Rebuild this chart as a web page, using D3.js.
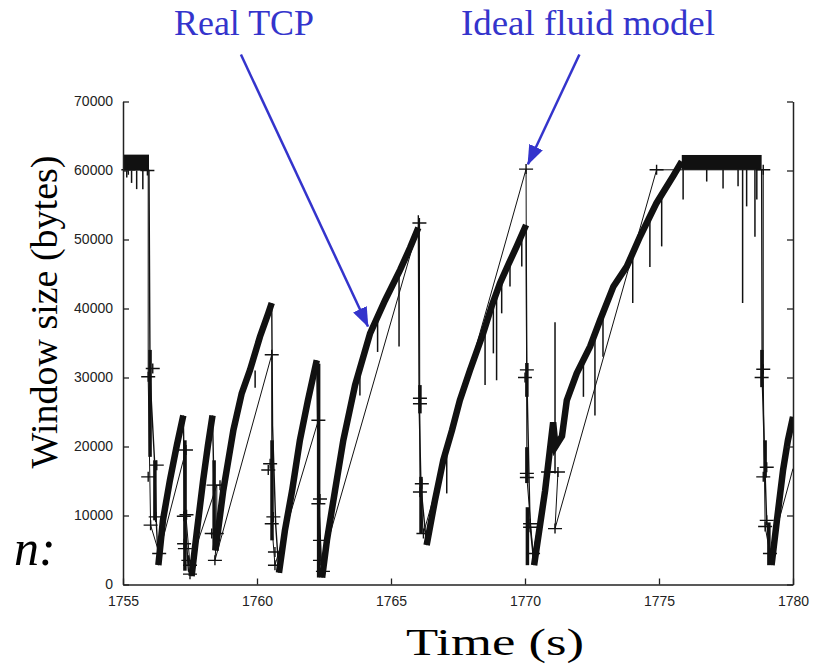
<!DOCTYPE html>
<html>
<head>
<meta charset="utf-8">
<script src="https://cdn.jsdelivr.net/npm/d3@7"></script>
<style>
  html, body { margin: 0; padding: 0; background: #fff; }
  svg { display: block; }
  .tick text { font-family: "Liberation Sans", Arial, sans-serif; font-size: 14px; fill: #222; }
</style>
</head>
<body>
<svg id="chart" width="815" height="666"></svg>
<script>
// axis ticks
const xTicks = [1755, 1760, 1765, 1770, 1775, 1780];
const yTicks = [0, 10000, 20000, 30000, 40000, 50000, 60000, 70000];

// Real TCP: flat receiver-window limited bands [t0, t1, low, high]
const capBands = [
  [1755.0, 1755.97, 60000, 62300],
  [1775.85, 1778.83, 60100, 62250]
];

// Real TCP: increase phases [t, bytes]
const tcpRamps = [
  [[1756.32, 2800], [1756.49, 9300], [1756.75, 15100], [1757.01, 20200], [1757.25, 24500]],
  [[1757.56, 1200], [1757.76, 7800], [1757.99, 15100], [1758.17, 20200], [1758.34, 24500]],
  [[1758.45, 4900], [1758.74, 13600], [1759.12, 22400], [1759.43, 27700], [1759.74, 31100], [1760.11, 35900], [1760.42, 39300], [1760.55, 40800]],
  [[1760.82, 1700], [1761.04, 7800], [1761.31, 13600], [1761.60, 20900], [1761.90, 26700], [1762.23, 32500]],
  [[1762.43, 1000], [1762.61, 6400], [1762.91, 13600], [1763.22, 20900], [1763.66, 28900], [1764.22, 36400], [1764.78, 41200], [1765.34, 45600], [1765.71, 48800], [1766.02, 51700]],
  [[1766.33, 5700], [1766.64, 12200], [1766.95, 18000], [1767.28, 22400], [1767.57, 26700], [1767.95, 31100], [1768.44, 36400], [1768.77, 40500], [1769.07, 43700], [1769.37, 46300], [1769.69, 49000], [1770.04, 52100]],
  [[1770.34, 2800], [1770.75, 13600], [1771.05, 23500], [1771.14, 20000], [1771.38, 21500], [1771.56, 26700], [1771.93, 30600], [1772.43, 34500], [1772.80, 38300], [1773.30, 43200], [1773.80, 46100], [1774.29, 50400], [1774.91, 55300], [1775.53, 59200], [1775.85, 61300]],
  [[1779.20, 2800], [1779.40, 9300], [1779.63, 16600], [1779.81, 20900], [1780.0, 24300]]
];

// Real TCP: loss drops (thin)
const tcpDrops = [
  [[1755.97, 60100], [1756.01, 30000], [1756.19, 17000], [1756.24, 9300], [1756.32, 2800]],
  [[1757.25, 24500], [1757.31, 9900], [1757.44, 2000], [1757.56, 1200]],
  [[1758.34, 24500], [1758.40, 13000], [1758.45, 4900]],
  [[1760.55, 40800], [1760.58, 23000], [1760.70, 8500], [1760.82, 1700]],
  [[1762.23, 32500], [1762.30, 12000], [1762.43, 1000]],
  [[1766.02, 53500], [1766.05, 26000], [1766.12, 14000], [1766.33, 5700]],
  [[1770.04, 52100], [1770.07, 30000], [1770.19, 8500], [1770.34, 2800]],
  [[1778.83, 60100], [1778.85, 30000], [1778.96, 16000], [1779.02, 9000], [1779.20, 2800]]
];

// Real TCP: dense stretches during recovery [t, top, bottom]
const tcpBursts = [
  [1756.01, 34000, 18500], [1756.19, 18000, 9300], [1757.31, 20900, 2000],
  [1758.40, 18000, 5000], [1760.56, 20900, 6400], [1762.30, 32000, 1000],
  [1766.08, 28900, 24800], [1766.12, 15600, 7400], [1770.07, 32100, 27200],
  [1770.07, 19900, 14700], [1770.09, 11200, 2800], [1778.84, 34000, 28600],
  [1778.96, 20900, 15500], [1779.10, 9000, 2800]
];

// Real TCP: short downward spikes [t, top, bottom]
const tcpSpikes = [
  [1755.14, 60000, 59000], [1755.32, 60000, 58200], [1755.51, 60000, 57300], [1755.74, 60000, 57300],
  [1759.93, 31000, 28500], [1763.16, 20900, 18500], [1763.84, 31300, 27400], [1764.50, 38800, 33700],
  [1765.30, 45300, 34500], [1767.08, 20000, 13200], [1768.51, 37200, 28900], [1768.82, 40600, 33500],
  [1768.94, 42000, 29600], [1769.13, 44200, 39300], [1769.44, 46900, 43200], [1769.88, 50700, 46100],
  [1771.12, 38000, 16100], [1772.18, 32500, 27200], [1772.61, 36300, 24500], [1772.91, 39300, 33000],
  [1774.02, 48000, 40800], [1774.66, 53300, 46000], [1775.10, 56400, 49000],
  [1775.90, 60100, 55800], [1776.78, 60100, 58400], [1777.39, 60100, 57400], [1777.95, 60100, 57700],
  [1778.12, 60100, 40800], [1778.27, 60100, 54800], [1778.58, 60100, 50400], [1778.65, 60100, 55800]
];

// Ideal fluid model trajectory
const fluidLine = [
  [1755.0, 60100], [1755.94, 60100], [1755.94, 30000], [1756.03, 8600], [1756.35, 4500],
  [1757.35, 19500], [1757.35, 9900], [1757.50, 2800], [1758.50, 14400], [1758.50, 7400],
  [1758.43, 3500], [1760.55, 33300], [1760.55, 8800], [1760.67, 2800], [1762.29, 23800],
  [1762.35, 6400], [1762.39, 2800], [1766.06, 52400], [1766.08, 13400], [1766.21, 7400],
  [1770.04, 60200], [1770.07, 15500], [1770.30, 4500], [1770.86, 16300], [1771.23, 16300],
  [1771.12, 8100], [1774.91, 60100], [1778.89, 60100], [1778.89, 30000], [1778.96, 8400],
  [1779.14, 4500], [1780.0, 16800]
];

// Ideal fluid model sample points (+)
const fluidMarks = [
  [1755.20, 60100], [1755.91, 60000], [1756.11, 31300], [1755.94, 30100], [1755.94, 15600],
  [1756.26, 17300], [1756.22, 9800], [1756.03, 8600], [1756.35, 4500], [1757.35, 19500],
  [1757.27, 9900], [1757.37, 10100], [1757.28, 5900], [1757.31, 5200], [1757.44, 3500],
  [1757.50, 2800], [1757.50, 1500], [1758.38, 14400], [1758.62, 14400], [1758.31, 7400],
  [1758.50, 7400], [1758.43, 3500], [1760.55, 33300], [1760.49, 17500], [1760.42, 16600],
  [1760.61, 9800], [1760.55, 8800], [1760.67, 4700], [1760.67, 2800], [1762.29, 23800],
  [1762.35, 12400], [1762.29, 11700], [1762.35, 6400], [1762.35, 3500], [1762.46, 1900],
  [1766.06, 52400], [1766.08, 27000], [1766.08, 26200], [1766.15, 14600], [1766.08, 13400],
  [1766.21, 7400], [1770.04, 60200], [1770.07, 31100], [1770.00, 30000], [1770.07, 16100],
  [1770.07, 15500], [1770.19, 8800], [1770.19, 8300], [1770.30, 4500], [1770.86, 16300],
  [1771.23, 16300], [1771.12, 8100], [1774.91, 60100], [1778.89, 60100], [1778.89, 31200],
  [1778.83, 30000], [1779.02, 17000], [1778.89, 15600], [1779.02, 9300], [1778.96, 8400],
  [1779.14, 4500]
];

// annotations: label, text start, arrow from/to [t, bytes]
const notes = [
  { label: "Real TCP", x: 174, len: 140, from: [1759.40, 76800], to: [1764.14, 37400] },
  { label: "Ideal fluid model", x: 461, len: 254, from: [1772.03, 76800], to: [1770.11, 60900] }
];

const serif = "'Liberation Serif', 'Times New Roman', Times, serif";
const svg = d3.select("#chart");
const x = d3.scaleLinear().domain([1755, 1780]).range([123, 793]);
const y = d3.scaleLinear().domain([0, 70000]).range([584.5, 101.5]);
const ink = "#111";
const blue = "#3434cc";

svg.append("defs").append("clipPath").attr("id", "plot")
  .append("rect").attr("x", 123).attr("y", 60).attr("width", 670).attr("height", 526);

const plot = svg.append("g").attr("clip-path", "url(#plot)");
const line = d3.line().x(d => x(d[0])).y(d => y(d[1]));

// fluid model
plot.append("path").datum(fluidLine)
  .attr("d", line).attr("fill", "none").attr("stroke", ink).attr("stroke-width", 1);

// real tcp
plot.selectAll(".drop").data(tcpDrops).enter().append("path")
  .attr("d", line).attr("fill", "none").attr("stroke", ink).attr("stroke-width", 1.4);

plot.selectAll(".spike").data(tcpSpikes).enter().append("line")
  .attr("x1", d => x(d[0])).attr("x2", d => x(d[0]))
  .attr("y1", d => y(d[1])).attr("y2", d => y(d[2]))
  .attr("stroke", ink).attr("stroke-width", 1.5);

plot.selectAll(".burst").data(tcpBursts).enter().append("line")
  .attr("x1", d => x(d[0])).attr("x2", d => x(d[0]))
  .attr("y1", d => y(d[1])).attr("y2", d => y(d[2]))
  .attr("stroke", ink).attr("stroke-width", 3.5);

plot.selectAll(".cap").data(capBands).enter().append("rect")
  .attr("x", d => x(d[0])).attr("width", d => x(d[1]) - x(d[0]))
  .attr("y", d => y(d[3])).attr("height", d => y(d[2]) - y(d[3]))
  .attr("fill", ink);

plot.selectAll(".ramp").data(tcpRamps).enter().append("path")
  .attr("d", line).attr("fill", "none").attr("stroke", ink)
  .attr("stroke-width", 6.5).attr("stroke-linejoin", "miter").attr("stroke-linecap", "butt");

// + markers
svg.append("g").selectAll("path").data(fluidMarks).enter().append("path")
  .attr("transform", d => "translate(" + x(d[0]) + "," + y(d[1]) + ")")
  .attr("d", "M-7,0H7M0,-5V5")
  .attr("stroke", ink).attr("stroke-width", 1.4).attr("fill", "none");

// axes (ticks inward, no top border)
const axisG = svg.append("g");
axisG.append("g").attr("transform", "translate(123,0)")
  .call(d3.axisLeft(y).tickValues(yTicks).tickSize(-6).tickSizeOuter(0).tickPadding(10).tickFormat(d3.format("d")));
axisG.append("g").attr("transform", "translate(793,0)")
  .call(d3.axisRight(y).tickValues(yTicks).tickSize(-6).tickSizeOuter(0).tickFormat(""));
axisG.append("g").attr("transform", "translate(0,584.5)")
  .call(d3.axisBottom(x).tickValues(xTicks).tickSize(-6).tickSizeOuter(0).tickPadding(12).tickFormat(d3.format("d")));
axisG.selectAll(".domain").attr("stroke", "#222").attr("stroke-width", 1.5);
axisG.selectAll(".tick line").attr("stroke", "#222").attr("stroke-width", 1.3);

// axis titles
svg.append("text").attr("font-family", serif)
  .attr("transform", "translate(57,312) rotate(-90)")
  .attr("text-anchor", "middle").attr("font-size", 38).attr("fill", "#000")
  .text("Window size (bytes)");
svg.append("text").attr("font-family", serif)
  .attr("x", 406).attr("y", 655).attr("font-size", 37)
  .attr("textLength", 178).attr("lengthAdjust", "spacingAndGlyphs").attr("fill", "#000")
  .text("Time (s)");

// stray slide text peeking out at the left
svg.append("text").attr("font-family", serif)
  .attr("x", 14).attr("y", 565).attr("font-size", 50).attr("font-style", "italic").attr("fill", "#000")
  .text("n:");

// annotations
svg.select("defs").append("marker").attr("id", "head")
  .attr("markerUnits", "userSpaceOnUse").attr("viewBox", "0 -8 20 16")
  .attr("refX", 19).attr("refY", 0).attr("markerWidth", 20).attr("markerHeight", 16)
  .attr("orient", "auto")
  .append("path").attr("d", "M0,-7.5L20,0L0,7.5Z").attr("fill", blue);

const ann = svg.append("g");
ann.selectAll("text").data(notes).enter().append("text")
  .attr("font-family", serif)
  .attr("x", d => d.x).attr("y", 35).attr("font-size", 35).attr("fill", blue)
  .attr("textLength", d => d.len).attr("lengthAdjust", "spacingAndGlyphs")
  .text(d => d.label);
ann.selectAll("line").data(notes).enter().append("line")
  .attr("x1", d => x(d.from[0])).attr("y1", d => y(d.from[1]))
  .attr("x2", d => x(d.to[0])).attr("y2", d => y(d.to[1]))
  .attr("stroke", blue).attr("stroke-width", 2.5).attr("marker-end", "url(#head)");
</script>
</body>
</html>
